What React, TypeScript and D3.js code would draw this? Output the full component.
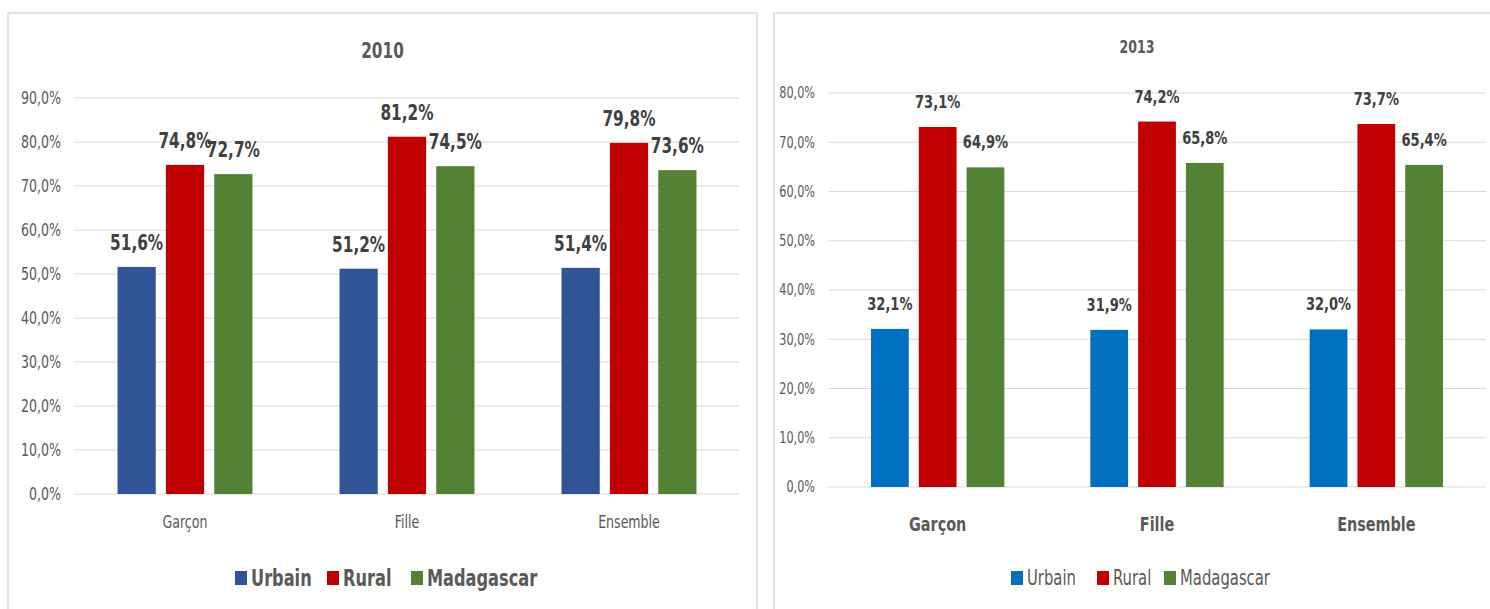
import React, { useEffect } from 'react';
import * as d3 from 'd3';

const categories = ['Garçon', 'Fille', 'Ensemble'];
const seriesNames = ['Urbain', 'Rural', 'Madagascar'];

// values in %
const urbain2010 = [51.6, 51.2, 51.4];
const rural2010 = [74.8, 81.2, 79.8];
const mada2010 = [72.7, 74.5, 73.6];
const ticks2010 = [0, 10, 20, 30, 40, 50, 60, 70, 80, 90];

const urbain2013 = [32.1, 31.9, 32.0];
const rural2013 = [73.1, 74.2, 73.7];
const mada2013 = [64.9, 65.8, 65.4];
const ticks2013 = [0, 10, 20, 30, 40, 50, 60, 70, 80];

const FONT = "'Liberation Sans Narrow', 'DejaVu Sans Condensed', 'Arial Narrow', sans-serif";
const SX = 0.8; // text in the original is narrow (Calibri-like), squeeze horizontally
const fmt = (v: number) => v.toFixed(1).replace('.', ',') + '%';

// text squeezed horizontally; size is given as the width-equivalent size
const Txt = (props: {
    x: number;
    y: number;
    size: number;
    anchor?: string;
    bold?: boolean;
    fill?: string;
    dy?: string;
    children: React.ReactNode;
}) => (
    <text
        transform={`translate(${props.x},${props.y}) scale(${SX},1)`}
        dy={props.dy}
        textAnchor={props.anchor || 'start'}
        fontFamily={FONT}
        fontWeight={props.bold ? 'bold' : 'normal'}
        fontSize={props.size / SX}
        fill={props.fill || '#595959'}
    >
        {props.children}
    </text>
);

interface PanelProps {
    title: string;
    values: number[][];
    colors: string[];
    ticks: number[];
    box: { x: number; y: number; w: number; h: number };
    plot: { x0: number; x1: number; yTop: number; yBottom: number };
    titleY: number;
    titleSize: number;
    tickSize: number;
    labelSize: number;
    labelOffset: number;
    catY: number;
    catSize: number;
    catBold: boolean;
    legendY: number;
    legendSize: number;
    legendBold: boolean;
    legendX: number[];
}

const Panel = (p: PanelProps) => {
    const maxTick = p.ticks[p.ticks.length - 1];
    const y = d3.scaleLinear().domain([0, maxTick]).range([p.plot.yBottom, p.plot.yTop]);
    const x0 = d3.scaleBand().domain(categories).range([p.plot.x0, p.plot.x1]).padding(0);
    const x1 = d3
        .scaleBand()
        .domain(seriesNames)
        .range([0, x0.bandwidth()])
        .paddingInner(0.21)
        .paddingOuter(0.9);
    const boxMid = p.box.x + p.box.w / 2;

    return (
        <g>
            <rect x={p.box.x} y={p.box.y} width={p.box.w} height={p.box.h} fill="#fff" stroke="#d9d9d9" strokeWidth={1.5} />
            <Txt x={boxMid} y={p.titleY} anchor="middle" bold size={p.titleSize}>
                {p.title}
            </Txt>
            {p.ticks.map((t) => (
                <g key={t}>
                    <line x1={p.plot.x0} x2={p.plot.x1} y1={y(t)} y2={y(t)} stroke="#d9d9d9" strokeWidth={1.2} />
                    <Txt x={p.plot.x0 - 13} y={y(t)} dy="0.35em" anchor="end" size={p.tickSize}>
                        {fmt(t)}
                    </Txt>
                </g>
            ))}
            {categories.map((c, ci) => (
                <g key={c} transform={`translate(${x0(c)},0)`}>
                    {seriesNames.map((s, si) => {
                        const v = p.values[si][ci];
                        const bx = x1(s)!;
                        return (
                            <g key={s}>
                                <rect x={bx} y={y(v)} width={x1.bandwidth()} height={y(0) - y(v)} fill={p.colors[si]} />
                                <Txt
                                    x={bx + x1.bandwidth() / 2}
                                    y={y(v) - p.labelOffset}
                                    anchor="middle"
                                    bold
                                    size={p.labelSize}
                                    fill="#404040"
                                >
                                    {fmt(v)}
                                </Txt>
                            </g>
                        );
                    })}
                    <Txt x={x0.bandwidth() / 2} y={p.catY} anchor="middle" bold={p.catBold} size={p.catSize}>
                        {c}
                    </Txt>
                </g>
            ))}
            {seriesNames.map((s, si) => (
                <g key={s}>
                    <rect x={p.legendX[si]} y={p.legendY - 7} width={12} height={14} fill={p.colors[si]} />
                    <Txt x={p.legendX[si] + 16} y={p.legendY} dy="0.35em" bold={p.legendBold} size={p.legendSize}>
                        {s}
                    </Txt>
                </g>
            ))}
        </g>
    );
};

const App = () => {
    useEffect(() => {
        document.body.style.margin = '0';
    }, []);

    return (
        <svg width={1490} height={609} style={{ display: 'block', background: '#fff' }}>
            <Panel
                title="2010"
                values={[urbain2010, rural2010, mada2010]}
                colors={['#2f5597', '#c00000', '#548235']}
                ticks={ticks2010}
                box={{ x: 8, y: 13, w: 749, h: 610 }}
                plot={{ x0: 74, x1: 740, yTop: 98, yBottom: 494 }}
                titleY={58}
                titleSize={17}
                tickSize={14}
                labelSize={17}
                labelOffset={17}
                catY={528}
                catSize={14}
                catBold={false}
                legendY={578}
                legendSize={18}
                legendBold={true}
                legendX={[235, 327, 411]}
            />
            <Panel
                title="2013"
                values={[urbain2013, rural2013, mada2013]}
                colors={['#0070c0', '#c00000', '#548235']}
                ticks={ticks2013}
                box={{ x: 774, y: 13, w: 726, h: 610 }}
                plot={{ x0: 828, x1: 1486, yTop: 93, yBottom: 487 }}
                titleY={53}
                titleSize={14}
                tickSize={12.5}
                labelSize={14.5}
                labelOffset={19}
                catY={531}
                catSize={16}
                catBold={true}
                legendY={578}
                legendSize={16.5}
                legendBold={false}
                legendX={[1011, 1097, 1164]}
            />
        </svg>
    );
};

export default App;
